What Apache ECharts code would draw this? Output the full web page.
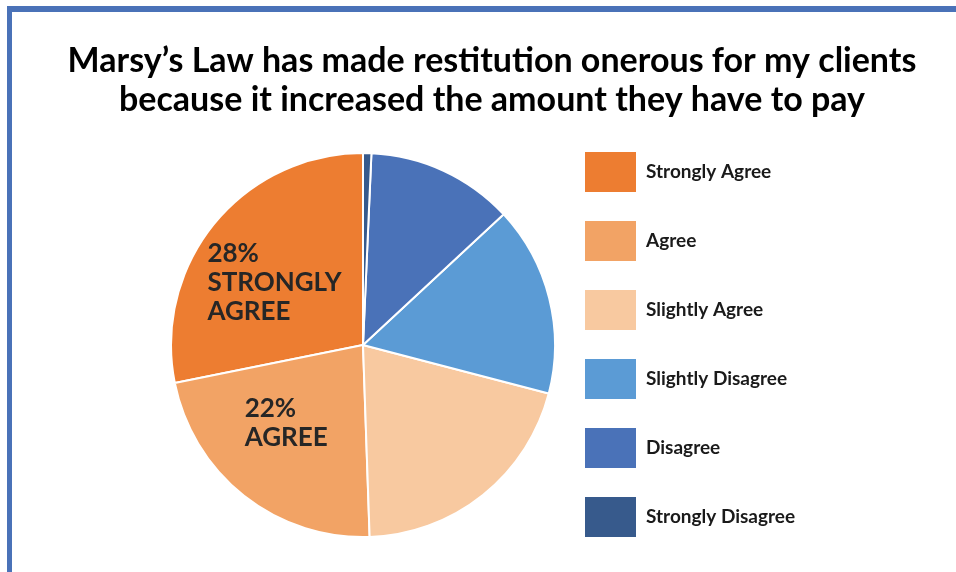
<!DOCTYPE html>
<html>
<head>
<meta charset="utf-8">
<script src="https://cdn.jsdelivr.net/npm/echarts@6/dist/echarts.min.js"></script>
<style>
  html, body { margin: 0; padding: 0; background: #fff; }
  #frame { position: absolute; left: 7px; top: 6px; right: 0; bottom: 0;
           border-left: 5px solid #4A72B8; border-top: 6px solid #4A72B8; }
  #main { position: absolute; left: 0; top: 0; width: 956px; height: 572px; }
</style>
</head>
<body>
<div id="frame"></div>
<div id="main"></div>
<script>
// answers, in the order they run round the pie (anticlockwise from 12 o'clock)
const categories = ['Strongly Agree', 'Agree', 'Slightly Agree', 'Slightly Disagree', 'Disagree', 'Strongly Disagree'];
const shares = [28.2, 22.4, 20.4, 16.0, 12.4, 0.7];
const colors = ['#ED7D31', '#F2A365', '#F8C9A0', '#5B9BD5', '#4A72B8', '#375A8C'];
const sliceLabels = ['28%\nSTRONGLY\nAGREE', '22%\nAGREE', '', '', '', ''];

const chart = echarts.init(document.getElementById('main'), null, { renderer: 'canvas' });

const fontFam = 'Lato, "Open Sans", sans-serif';

const pieData = categories.map((name, i) => {
  const item = { name: name, value: shares[i], itemStyle: { color: colors[i] } };
  if (sliceLabels[i]) {
    const lines = sliceLabels[i].split('\n').map(s => '{a|' + s + '}').join('\n');
    item.label = {
      show: true,
      position: 'inside',
      formatter: lines,
      offset: i === 0 ? [-11, 0] : [-12, 0],
      rich: {
        a: {
          width: i === 0 ? 136 : 90,
          align: 'left',
          fontFamily: fontFam,
          fontWeight: 'bold',
          fontSize: 26,
          lineHeight: 29,
          color: '#262626'
        }
      }
    };
  } else {
    item.label = { show: false };
  }
  return item;
});

const option = {
  animation: false,
  title: {
    text: 'Marsy\u2019s Law has made restitution onerous for my clients\nbecause it increased the amount they have to pay',
    left: 487,
    top: 37,
    textAlign: 'center',
    textStyle: {
      fontFamily: fontFam,
      fontWeight: 'bold',
      fontSize: 34,
      lineHeight: 39,
      color: '#000'
    }
  },
  legend: {
    orient: 'vertical',
    left: 578,
    top: 145,
    itemWidth: 53,
    itemHeight: 42,
    itemGap: 25,
    icon: 'rect',
    selectedMode: false,
    data: categories,
    textStyle: {
      fontFamily: fontFam,
      fontWeight: 'bold',
      fontSize: 19,
      color: '#1a1a1a',
      padding: [0, 0, 0, 4]
    }
  },
  series: [
    {
      type: 'pie',
      center: [363, 345],
      radius: [0, 192],
      startAngle: 90,
      clockwise: false,
      labelLine: { show: false },
      itemStyle: { borderColor: '#fff', borderWidth: 2 },
      emphasis: { disabled: true },
      data: pieData
    }
  ]
};

chart.setOption(option);
</script>
</body>
</html>
